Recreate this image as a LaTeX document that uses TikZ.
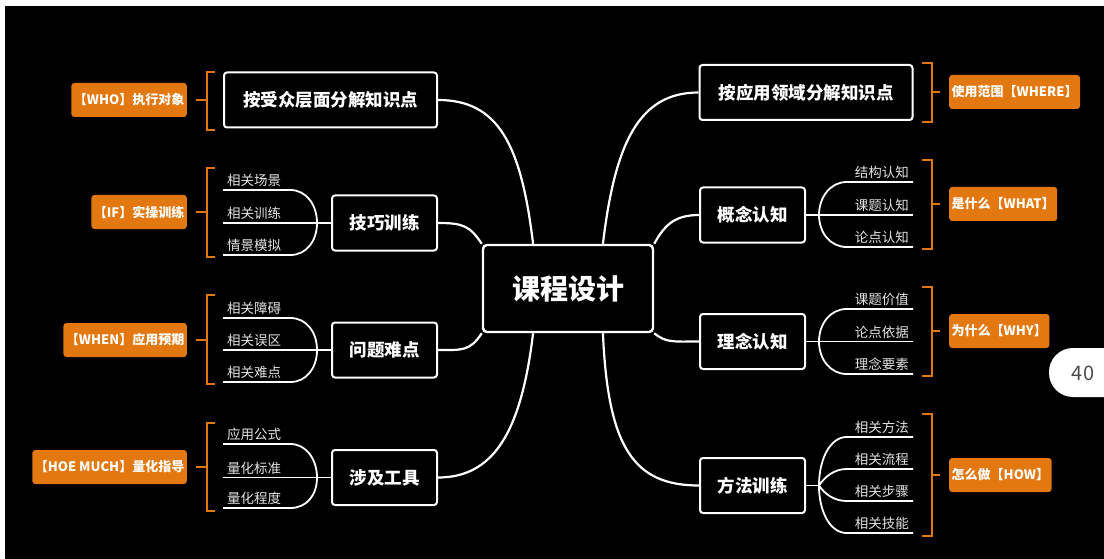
\documentclass[tikz,border=0pt]{standalone}
\usepackage{fontspec}
\setmainfont{Noto Sans CJK SC}
\definecolor{tagorange}{HTML}{E2780F}
\definecolor{leafgray}{HTML}{E4E4E4}
\usetikzlibrary{calc}

\begin{document}
\begin{tikzpicture}[x=1pt, y=-1pt,
      root/.style={draw=white, line width=2.4pt, rounded corners=4pt, text=white,
                   font=\fontsize{28}{30}\selectfont\bfseries,
                   minimum width=170pt, minimum height=87pt},
      topic/.style={draw=white, line width=2pt, rounded corners=3pt, text=white,
                    font=\fontsize{17.5}{20}\selectfont\bfseries, minimum height=55pt},
      bigtopic/.style={topic, minimum width=213pt},
      subtopic/.style={topic, minimum width=105pt},
      leafl/.style={text=leafgray, font=\fontsize{13.5}{15}\selectfont, text width=59pt,
                    inner xsep=4pt, inner ysep=3pt, align=left, anchor=south west},
      leafr/.style={text=leafgray, font=\fontsize{13.5}{15}\selectfont, text width=58pt,
                    inner xsep=4pt, inner ysep=3pt, align=right, anchor=south east},
      tag/.style={fill=tagorange, rounded corners=3pt, text=white,
                  font=\fontsize{13}{15}\selectfont\bfseries,
                  minimum height=34pt, inner xsep=2.5pt},
      bracket/.style={draw=tagorange, line width=2.2pt},
      link/.style={draw=white, line width=2.2pt},
      twig/.style={draw=white, line width=1.8pt}
    ]
      \useasboundingbox (0,0) rectangle (1104,559);
      \fill[white] (0,0) rectangle (1104,559);
      \fill[black] (5,6) rectangle (1104,559);

      % centre and main topics
      \node[root] (root) at (568,288.5) {课程设计};

      \node[bigtopic] (aud) at (330.5,100) {按受众层面分解知识点};
      \node[subtopic] (skill) at (384.5,223) {技巧训练};
      \node[subtopic] (issue) at (384.5,350) {问题难点};
      \node[subtopic] (tool) at (384.5,477.5) {涉及工具};

      \node[bigtopic] (field) at (806,92.5) {按应用领域分解知识点};
      \node[subtopic] (concept) at (752.5,215) {概念认知};
      \node[subtopic] (idea) at (752.5,341.5) {理念认知};
      \node[subtopic] (method) at (752.5,485.5) {方法训练};

      \draw[link] (root.128) .. controls +(-12,-100) and +(60,0) .. (aud.east);
      \draw[link] (root.north west) .. controls +(-12,-18) and +(25,0) .. (skill.east);
      \draw[link] (root.south west) .. controls +(-12,18) and +(25,0) .. (issue.east);
      \draw[link] (root.232) .. controls +(-12,100) and +(55,0) .. (tool.east);
      \draw[link] (root.52) .. controls +(12,-100) and +(-60,0) .. (field.west);
      \draw[link] (root.north east) .. controls +(10,-18) and +(-25,0) .. (concept.west);
      \draw[link] (root.south east) .. controls +(12,10) and +(-25,0) .. (idea.west);
      \draw[link] (root.308) .. controls +(5,115) and +(-65,0) .. (method.west);

      % left leaves
      \coordinate (skill-j) at ($(skill.west)+(-14,0)$);
      \node[leafl] (s1) at (223,190) {相关场景};
      \node[leafl] (s2) at (223,223) {相关训练};
      \node[leafl] (s3) at (223,255) {情景模拟};
      \draw[twig] (skill.west) -- (skill-j);
      \draw[twig] (skill-j) .. controls +(0,-18) and +(16,0) .. (s1.south east) -- (s1.south west);
      \draw[twig] (skill-j) -- (s2.south west);
      \draw[twig] (skill-j) .. controls +(0,18) and +(16,0) .. (s3.south east) -- (s3.south west);

      \coordinate (issue-j) at ($(issue.west)+(-14,0)$);
      \node[leafl] (q1) at (223,318) {相关障碍};
      \node[leafl] (q2) at (223,350) {相关误区};
      \node[leafl] (q3) at (223,382) {相关难点};
      \draw[twig] (issue.west) -- (issue-j);
      \draw[twig] (issue-j) .. controls +(0,-18) and +(16,0) .. (q1.south east) -- (q1.south west);
      \draw[twig] (issue-j) -- (q2.south west);
      \draw[twig] (issue-j) .. controls +(0,18) and +(16,0) .. (q3.south east) -- (q3.south west);

      \coordinate (tool-j) at ($(tool.west)+(-14,0)$);
      \node[leafl] (g1) at (223,444) {应用公式};
      \node[leafl] (g2) at (223,477.5) {量化标准};
      \node[leafl] (g3) at (223,508) {量化程度};
      \draw[twig] (tool.west) -- (tool-j);
      \draw[twig] (tool-j) .. controls +(0,-18) and +(16,0) .. (g1.south east) -- (g1.south west);
      \draw[twig] (tool-j) -- (g2.south west);
      \draw[twig] (tool-j) .. controls +(0,18) and +(16,0) .. (g3.south east) -- (g3.south west);

      % right leaves
      \coordinate (concept-j) at ($(concept.east)+(13,0)$);
      \node[leafr] (c1) at (913,182) {结构认知};
      \node[leafr] (c2) at (913,215) {课题认知};
      \node[leafr] (c3) at (913,247) {论点认知};
      \draw[twig] (concept.east) -- (concept-j);
      \draw[twig] (concept-j) .. controls +(0,-18) and +(-16,0) .. (c1.south west) -- (c1.south east);
      \draw[twig] (concept-j) -- (c2.south east);
      \draw[twig] (concept-j) .. controls +(0,18) and +(-16,0) .. (c3.south west) -- (c3.south east);

      \coordinate (idea-j) at ($(idea.east)+(13,0)$);
      \node[leafr] (i1) at (913,309) {课题价值};
      \node[leafr] (i2) at (913,341.5) {论点依据};
      \node[leafr] (i3) at (913,374) {理念要素};
      \draw[twig] (idea.east) -- (idea-j);
      \draw[twig] (idea-j) .. controls +(0,-18) and +(-16,0) .. (i1.south west) -- (i1.south east);
      \draw[twig] (idea-j) -- (i2.south east);
      \draw[twig] (idea-j) .. controls +(0,18) and +(-16,0) .. (i3.south west) -- (i3.south east);

      \coordinate (method-j) at ($(method.east)+(13,0)$);
      \node[leafr] (m1) at (913,437) {相关方法};
      \node[leafr] (m2) at (913,469) {相关流程};
      \node[leafr] (m3) at (913,501) {相关步骤};
      \node[leafr] (m4) at (913,533) {相关技能};
      \draw[twig] (method.east) -- (method-j);
      \draw[twig] (method-j) .. controls +(0,-27) and +(-16,0) .. (m1.south west) -- (m1.south east);
      \draw[twig] (method-j) .. controls +(6,-9) and +(-12,0) .. (m2.south west) -- (m2.south east);
      \draw[twig] (method-j) .. controls +(6,9) and +(-12,0) .. (m3.south west) -- (m3.south east);
      \draw[twig] (method-j) .. controls +(0,27) and +(-16,0) .. (m4.south west) -- (m4.south east);

      % orange tags and brackets
      \node[tag, anchor=east] (who) at (187,100) {【WHO】执行对象};
      \node[tag, anchor=east] (if) at (187,212) {【IF】实操训练};
      \node[tag, anchor=east] (when) at (187,340) {【WHEN】应用预期};
      \node[tag, anchor=east] (much) at (187,467) {【HOE MUCH】量化指导};
      \node[tag, anchor=west] (where) at (949,92) {使用范围【WHERE】};
      \node[tag, anchor=west] (what) at (949,204) {是什么【WHAT】};
      \node[tag, anchor=west] (why) at (949,331) {为什么【WHY】};
      \node[tag, anchor=west] (how) at (949,475) {怎么做【HOW】};

      \draw[bracket] (215,72) -- (207,72) -- (207,130) -- (215,130) (207,100) -- (196,100);
      \draw[bracket] (215,168) -- (207,168) -- (207,257) -- (215,257) (207,212) -- (196,212);
      \draw[bracket] (215,295) -- (207,295) -- (207,384) -- (215,384) (207,340) -- (196,340);
      \draw[bracket] (215,423) -- (207,423) -- (207,511) -- (215,511) (207,467) -- (196,467);
      \draw[bracket] (922,63) -- (932,63) -- (932,122) -- (922,122) (932,92) -- (940,92);
      \draw[bracket] (922,160) -- (932,160) -- (932,249) -- (922,249) (932,204) -- (940,204);
      \draw[bracket] (922,287) -- (932,287) -- (932,376) -- (922,376) (932,331) -- (940,331);
      \draw[bracket] (922,414) -- (932,414) -- (932,536) -- (922,536) (932,475) -- (940,475);

      % page badge
      \fill[white, rounded corners=24pt] (1049,348) rectangle (1130,397);
      \node[text=black!70, font=\fontsize{20}{22}\selectfont] (pagenum) at (1083,373) {40};
    \end{tikzpicture}
\end{document}
